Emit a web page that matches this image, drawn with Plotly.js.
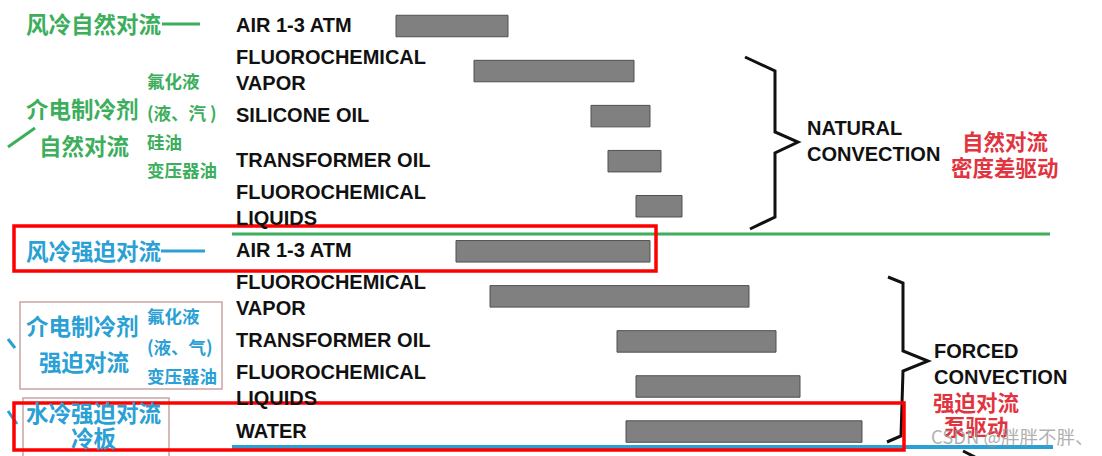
<!DOCTYPE html>
<html>
<head>
<meta charset="utf-8">
<script src="https://cdn.plot.ly/plotly-3.0.1.min.js"></script>
<style>html,body{margin:0;padding:0;background:#fff;}#chart{width:1102px;height:456px;}</style>
</head>
<body>
<div id="chart"></div>
<script>
// ---- data (relative heat-transfer-coefficient scale) ----
const rowLabels = [
  "AIR 1-3 ATM",
  "FLUOROCHEMICAL<br>VAPOR",
  "SILICONE OIL",
  "TRANSFORMER OIL",
  "FLUOROCHEMICAL<br>LIQUIDS",
  "AIR 1-3 ATM",
  "FLUOROCHEMICAL<br>VAPOR",
  "TRANSFORMER OIL",
  "FLUOROCHEMICAL<br>LIQUIDS",
  "WATER"
];
const rangeLow  = [396, 474, 591, 608, 636, 456, 490, 617, 636, 626];
const rangeHigh = [508, 634, 650, 661, 682, 650, 749, 776, 800, 862];
const cutOffLabel = "FLUOROCHEMICAL";

const naturalGroup = ["NATURAL<br>CONVECTION", "自然对流", "密度差驱动"];
const forcedGroup  = ["FORCED<br>CONVECTION", "强迫对流", "泵驱动"];
const greenLabels  = ["风冷自然对流", "介电制冷剂", "自然对流", "氟化液", "(液、汽 )", "硅油", "变压器油"];
const blueLabels   = ["风冷强迫对流", "介电制冷剂", "强迫对流", "氟化液", "(液、气)", "变压器油", "水冷强迫对流", "冷板"];
const watermark = "CSDN @胖胖不胖、";

// ---- layout helpers ----
const W = 1102, H = 456;
const px = x => x / W;
const py = y => 1 - y / H;
const rowTop = 26, rowStep = 45.06;
const rows = rowLabels.map((_, i) => i);

const GREEN = '#3cae5c', BLUE = '#2aa0d4', RED = '#e2343f';
const CJK = '"Noto Sans CJK SC", "Noto Sans", sans-serif';
const LAT = '"Liberation Sans", Arial, sans-serif';

const trace = {
  type: 'bar', orientation: 'h',
  y: rows,
  base: rangeLow,
  x: rangeHigh.map((v, i) => v - rangeLow[i]),
  width: 0.477,
  marker: {color: '#808080', line: {color: '#505050', width: 1}},
  hoverinfo: 'skip'
};

const ann = [];
function txt(text, x, y, size, color, font, extra) {
  ann.push(Object.assign({
    text: text, xref: 'paper', yref: 'paper', x: px(x), y: py(y),
    xanchor: 'left', yanchor: 'middle', showarrow: false, align: 'left',
    borderpad: 0, borderwidth: 0,
    font: {family: font, size: size, color: color, weight: 'bold'}
  }, extra || {}));
}
const CJKUP = 2; // CJK glyphs sit slightly low

// row labels
rowLabels.forEach((t, i) => {
  ann.push({
    text: t, xref: 'paper', yref: 'y', x: px(236), y: i, yshift: 1,
    xanchor: 'left', yanchor: 'middle', showarrow: false, align: 'left',
    borderpad: 0, borderwidth: 0,
    font: {family: LAT, size: 20, color: '#111', weight: 'bold'}
  });
});
txt(cutOffLabel, 236, 463, 20, '#111', LAT);

// group labels right side
txt(naturalGroup[0], 807, 141, 20, '#111', LAT);
txt(naturalGroup[1], 962, 142 - CJKUP, 21.5, RED, CJK);
txt(naturalGroup[2], 951, 168 - CJKUP, 21.5, RED, CJK);
txt(forcedGroup[0], 934, 364, 20, '#111', LAT);
txt(forcedGroup[1], 933, 403 - CJKUP, 21.5, RED, CJK);
txt(forcedGroup[2], 944, 427 - CJKUP, 21.5, RED, CJK);

// left green labels
txt(greenLabels[0], 26, 25 - CJKUP, 22.5, GREEN, CJK);
txt(greenLabels[1], 26, 110 - CJKUP, 22.5, GREEN, CJK);
txt(greenLabels[2], 39, 147 - CJKUP, 22.5, GREEN, CJK);
txt(greenLabels[3], 147, 83 - CJKUP, 17.5, GREEN, CJK);
txt(greenLabels[4], 147, 115 - CJKUP, 17.5, GREEN, CJK);
txt(greenLabels[5], 147, 143 - CJKUP, 17.5, GREEN, CJK);
txt(greenLabels[6], 147, 172 - CJKUP, 17.5, GREEN, CJK);

// left blue labels
txt(blueLabels[0], 26, 252 - CJKUP, 22.5, BLUE, CJK);
txt(blueLabels[1], 26, 327 - CJKUP, 22.5, BLUE, CJK);
txt(blueLabels[2], 39, 363 - CJKUP, 22.5, BLUE, CJK);
txt(blueLabels[3], 147, 317 - CJKUP, 17.5, BLUE, CJK);
txt(blueLabels[4], 147, 348 - CJKUP, 17.5, BLUE, CJK);
txt(blueLabels[5], 147, 377 - CJKUP, 17.5, BLUE, CJK);
txt(blueLabels[6], 26, 414 - CJKUP, 22.5, BLUE, CJK);
txt(blueLabels[7], 71, 439 - CJKUP, 22.5, BLUE, CJK);

// watermark
ann.push({
  text: watermark, xref: 'paper', yref: 'paper', x: px(929), y: py(436),
  xanchor: 'left', yanchor: 'middle', showarrow: false,
  font: {family: CJK, size: 18.5, color: 'rgba(150,150,150,0.75)'}
});

// ---- shapes ----
const shapes = [];
function line(x0, y0, x1, y1, color, width) {
  shapes.push({type: 'line', xref: 'paper', yref: 'paper',
    x0: px(x0), y0: py(y0), x1: px(x1), y1: py(y1),
    line: {color: color, width: width}});
}
function rect(x0, y0, x1, y1, color, width) {
  shapes.push({type: 'rect', xref: 'paper', yref: 'paper',
    x0: px(x0), y0: py(y0), x1: px(x1), y1: py(y1),
    line: {color: color, width: width}, fillcolor: 'rgba(0,0,0,0)'});
}
function path(pts, color, width) {
  const d = pts.map((p, i) => (i ? 'L' : 'M') + px(p[0]) + ',' + py(p[1])).join(' ');
  shapes.push({type: 'path', xref: 'paper', yref: 'paper', path: d,
    line: {color: color, width: width}});
}

// separators
line(232, 234, 1050, 234, GREEN, 3);
line(232, 447, 1053, 447, BLUE, 4);
// dashes after titles
line(162, 24, 200, 24, GREEN, 3);
line(161, 251, 205, 251, BLUE, 3);
// slashes
line(8, 147, 35, 128, GREEN, 3);
line(8, 339, 15, 348, BLUE, 3);
line(8, 411, 17, 424, BLUE, 3);
// thin label boxes
rect(20, 302, 222, 389, '#c9a4a4', 1.5);
rect(23, 398, 169, 470, '#c9a4a4', 1.5);
// braces
path([[745,57],[775,71],[775,132],[798,142],[775,153],[775,217],[750,229]], '#111', 3);
path([[888,277],[903,283],[903,351],[928,361],[903,371],[901,436],[887,442]], '#111', 3);
line(963, 451, 975, 457, '#111', 3);
// red highlight boxes
rect(14, 226, 656, 271, '#ff0000', 3.5);
rect(14, 403, 904, 450, '#ff0000', 3.5);

const layout = {
  width: W, height: H,
  margin: {l: 0, r: 0, t: 0, b: 0},
  paper_bgcolor: '#ffffff', plot_bgcolor: '#ffffff',
  showlegend: false,
  xaxis: {range: [0, W], visible: false, fixedrange: true},
  yaxis: {range: [(H - rowTop) / rowStep, -rowTop / rowStep], visible: false, fixedrange: true},
  annotations: ann,
  shapes: shapes
};

Plotly.newPlot('chart', [trace], layout, {displayModeBar: false, staticPlot: true});
</script>
</body>
</html>
